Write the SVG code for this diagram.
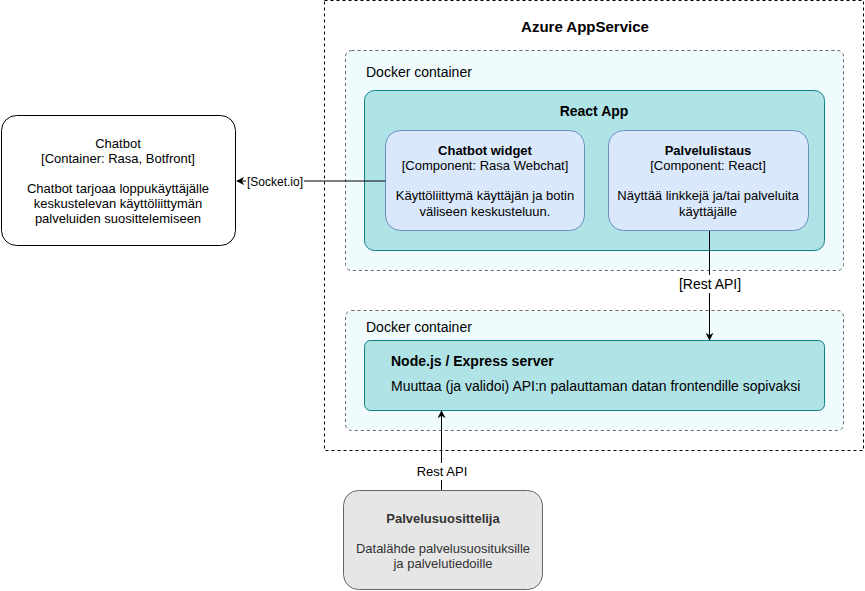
<svg xmlns="http://www.w3.org/2000/svg" width="865" height="591" viewBox="0 0 865 591">
<defs>
<marker id="arr" viewBox="0 0 10 10" refX="9" refY="5" markerWidth="8" markerHeight="8" markerUnits="userSpaceOnUse" orient="auto">
<path d="M0,0 L10,5 L0,10 L3,5 Z" fill="#000"/>
</marker>
<style>
text{font-family:"Liberation Sans",Arial,sans-serif;font-size:13px;fill:#000}
.b{font-weight:bold}
.c{text-anchor:middle}
.s14{font-size:14px}
.t{font-size:15px;font-weight:bold}
.gray text{fill:#333}
.lbl{fill:#fff}
.edge{stroke:#000;stroke-width:1;fill:none}
</style>
</defs>
<rect width="865" height="591" fill="#fff"/>
<g id="azure">
<rect x="324.5" y="0.5" width="539" height="450" fill="#fff" stroke="#000" stroke-dasharray="3 3"/>
<text x="585" y="32" class="t c">Azure AppService</text>
</g>
<g id="docker1">
<rect x="345.5" y="50.5" width="498" height="220" rx="6" fill="#f0fbfd" stroke="#666" stroke-dasharray="3 3"/>
<text x="366" y="77" class="s14">Docker container</text>
</g>
<g id="reactapp">
<rect x="364.5" y="90.5" width="460" height="160" rx="10" fill="#b0e3e6" stroke="#0e8088"/>
<text x="594" y="116" class="b c s14">React App</text>
</g>
<g id="chatbotwidget">
<rect x="385.5" y="130.5" width="199" height="100" rx="15" fill="#dae8fc" stroke="#6c8ebf"/>
<text x="485" y="155" class="b c">Chatbot widget</text>
<text x="485" y="170" class="c">[Component: Rasa Webchat]</text>
<text x="485" y="200" class="c">Käyttöliittymä käyttäjän ja botin</text>
<text x="485" y="216" class="c">väliseen keskusteluun.</text>
</g>
<g id="palvelulistaus">
<rect x="608.5" y="130.5" width="200" height="100" rx="15" fill="#dae8fc" stroke="#6c8ebf"/>
<text x="708" y="155" class="b c">Palvelulistaus</text>
<text x="708" y="170" class="c">[Component: React]</text>
<text x="708" y="200" class="c">Näyttää linkkejä ja/tai palveluita</text>
<text x="708" y="216" class="c">käyttäjälle</text>
</g>
<g id="docker2">
<rect x="345.5" y="310.5" width="498" height="120" rx="6" fill="#f0fbfd" stroke="#666" stroke-dasharray="3 3"/>
<text x="366" y="332" class="s14">Docker container</text>
</g>
<g id="nodeserver">
<rect x="364.5" y="340.5" width="460" height="70" rx="6" fill="#b0e3e6" stroke="#0e8088"/>
<text x="391" y="366" class="b s14">Node.js / Express server</text>
<text x="391" y="391" class="s14">Muuttaa (ja validoi) API:n palauttaman datan frontendille sopivaksi</text>
</g>
<g id="chatbot">
<rect x="1.5" y="115.5" width="234" height="130" rx="15" fill="#fff" stroke="#000"/>
<text x="118" y="148" class="c">Chatbot</text>
<text x="118" y="163" class="c">[Container: Rasa, Botfront]</text>
<text x="118" y="193" class="c">Chatbot tarjoaa loppukäyttäjälle</text>
<text x="118" y="208" class="c">keskustelevan käyttöliittymän</text>
<text x="118" y="223" class="c">palveluiden suosittelemiseen</text>
</g>
<g id="palvelusuosittelija" class="gray">
<rect x="343.5" y="490.5" width="199" height="99" rx="15" fill="#e6e6e6" stroke="#666"/>
<text x="443" y="523" class="b c">Palvelusuosittelija</text>
<text x="443" y="553" class="c">Datalähde palvelusuosituksille</text>
<text x="443" y="568" class="c">ja palvelutiedoille</text>
</g>
<g id="connectors">
<path class="edge" d="M385.5,181 L237,181" marker-end="url(#arr)"/>
<rect class="lbl" x="246" y="173" width="58" height="15"/>
<text x="275" y="186" class="c" style="font-size:12px">[Socket.io]</text>
<path class="edge" d="M709.5,231 L709.5,340" marker-end="url(#arr)"/>
<rect class="lbl" x="678" y="275" width="64" height="18"/>
<text x="710" y="289" class="c s14">[Rest API]</text>
<path class="edge" d="M441.5,490 L441.5,411" marker-end="url(#arr)"/>
<rect class="lbl" x="415" y="463" width="54" height="17"/>
<text x="442" y="476" class="c">Rest API</text>
</g>
</svg>
